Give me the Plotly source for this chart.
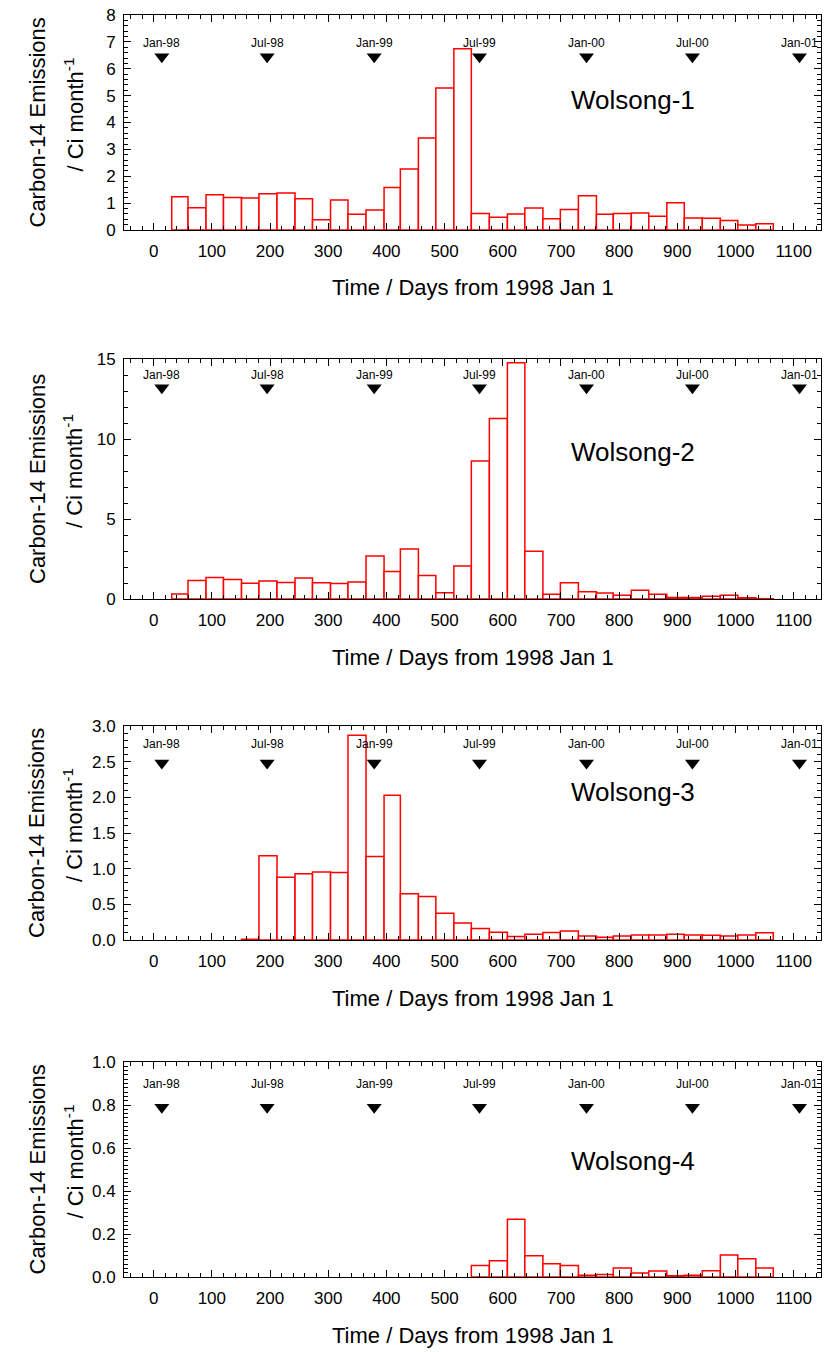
import pandas as pd
import plotly.graph_objects as go

# ---------------- data ----------------
months = ["1998-02", "1998-03", "1998-04", "1998-05", "1998-06", "1998-07", "1998-08",
          "1998-09", "1998-10", "1998-11", "1998-12", "1999-01", "1999-02", "1999-03",
          "1999-04", "1999-05", "1999-06", "1999-07", "1999-08", "1999-09", "1999-10",
          "1999-11", "1999-12", "2000-01", "2000-02", "2000-03", "2000-04", "2000-05",
          "2000-06", "2000-07", "2000-08", "2000-09", "2000-10", "2000-11"]

wolsong1 = [1.24, 0.83, 1.31, 1.21, 1.19, 1.35, 1.38, 1.16, 0.38, 1.12, 0.59, 0.74,
            1.58, 2.27, 3.42, 5.28, 6.74, 0.61, 0.47, 0.60, 0.82, 0.42, 0.76, 1.27,
            0.59, 0.61, 0.63, 0.51, 1.01, 0.45, 0.44, 0.35, 0.19, 0.23]
wolsong2 = [0.31, 1.16, 1.34, 1.22, 0.99, 1.12, 1.03, 1.32, 1.01, 0.97, 1.06, 2.69,
            1.72, 3.12, 1.47, 0.39, 2.07, 8.63, 11.28, 14.77, 2.98, 0.29, 1.01, 0.46,
            0.37, 0.23, 0.54, 0.29, 0.10, 0.10, 0.17, 0.23, 0.08, 0.02]
wolsong3 = [None, None, None, None, 0.01, 1.18, 0.88, 0.93, 0.955, 0.946, 2.87, 1.17,
            2.03, 0.65, 0.61, 0.375, 0.24, 0.16, 0.11, 0.05, 0.08, 0.105, 0.125, 0.055,
            0.04, 0.055, 0.07, 0.07, 0.08, 0.07, 0.065, 0.055, 0.07, 0.10]
wolsong4 = [None, None, None, None, None, None, None, None, None, None, None, None,
            None, None, None, None, None, 0.053, 0.076, 0.269, 0.099, 0.062, 0.053,
            0.008, 0.012, 0.042, 0.019, 0.028, 0.006, 0.008, 0.029, 0.102, 0.085, 0.042]

unit_names = ["Wolsong-1", "Wolsong-2", "Wolsong-3", "Wolsong-4"]
series = [wolsong1, wolsong2, wolsong3, wolsong4]

marker_labels = ["Jan-98", "Jul-98", "Jan-99", "Jul-99", "Jan-00", "Jul-00", "Jan-01"]
marker_dates = ["1998-01-15", "1998-07-15", "1999-01-15", "1999-07-15",
                "2000-01-15", "2000-07-15", "2001-01-15"]

y_ranges = [[0, 8], [0, 15], [0, 3], [0, 1]]
y_dticks = [1, 5, 0.5, 0.2]
y_minor = [0.2, 1, 0.1, 0.02]
y_formats = ["d", "d", ".1f", ".1f"]
marker_y = [6.45, 13.2, 2.48, 0.79]
label_y = [6.95, 14.0, 2.75, 0.90]
name_y = [4.84, 9.16, 2.07, 0.54]

# ---------------- layout geometry (pixels) ----------------
W, H = 826, 1352
x_left, x_right = 124, 821
panels_px = [(15, 230), (359, 599), (726, 940), (1062, 1277)]


def py(px):
    """pixel from top -> paper fraction"""
    return 1 - px / H


t0 = pd.Timestamp("1998-01-01")
starts = [pd.Timestamp(m + "-01") for m in months]
ends = [s + pd.offsets.MonthBegin(1) for s in starts]
centers = [((s - t0).days + (e - t0).days) / 2 for s, e in zip(starts, ends)]
widths = [(e - s).days for s, e in zip(starts, ends)]
marker_x = [(pd.Timestamp(d) - t0).days for d in marker_dates]

FONT = "Liberation Sans, Arial, Helvetica, sans-serif"

fig = go.Figure()
layout = dict(
    width=W, height=H,
    margin=dict(l=0, r=0, t=0, b=0, pad=0, autoexpand=False),
    paper_bgcolor="white", plot_bgcolor="white",
    showlegend=False,
    font=dict(family=FONT, color="black", size=17),
    annotations=[],
)

for i, vals in enumerate(series):
    k = "" if i == 0 else str(i + 1)
    xa, ya = "x" + k, "y" + k
    fig.add_trace(go.Bar(
        x=centers, y=vals, width=widths, xaxis=xa, yaxis=ya,
        marker=dict(color="white", line=dict(color="#ff0000", width=1.5)),
        hoverinfo="x+y",
    ))
    fig.add_trace(go.Scatter(
        x=marker_x, y=[marker_y[i]] * len(marker_x), xaxis=xa, yaxis=ya,
        mode="markers",
        marker=dict(symbol="triangle-down", size=13, color="black"),
    ))
    for mx, ml in zip(marker_x, marker_labels):
        layout["annotations"].append(dict(
            xref=xa, yref=ya, x=mx, y=label_y[i], text=ml, showarrow=False,
            font=dict(size=12, family=FONT, color="black"),
            xanchor="center", yanchor="middle",
        ))

    top, bot = panels_px[i]
    layout["xaxis" + k] = dict(
        domain=[x_left / W, x_right / W], anchor=ya, automargin=False,
        range=[-51, 1147], tick0=0, dtick=100,
        ticks="inside", ticklen=7, tickwidth=1, tickcolor="black",
        minor=dict(dtick=20, tick0=0, ticks="inside", ticklen=4, tickcolor="black"),
        showline=True, linecolor="black", linewidth=1, mirror="ticks",
        showgrid=False, zeroline=False,
        tickfont=dict(size=17), ticklabelstandoff=6,
    )
    layout["yaxis" + k] = dict(
        domain=[py(bot), py(top)], anchor=xa, automargin=False,
        range=y_ranges[i], dtick=y_dticks[i], tick0=0, tickformat=y_formats[i],
        ticks="inside", ticklen=7, tickwidth=1, tickcolor="black",
        minor=dict(dtick=y_minor[i], tick0=0, ticks="inside", ticklen=4, tickcolor="black"),
        showline=True, linecolor="black", linewidth=1, mirror="ticks",
        showgrid=False, zeroline=False,
        tickfont=dict(size=17), ticklabelstandoff=4,
    )
    # unit name
    layout["annotations"].append(dict(
        xref=xa, yref=ya, x=824, y=name_y[i], text=unit_names[i], showarrow=False,
        font=dict(size=26, family=FONT), xanchor="center", yanchor="middle",
    ))
    # x-axis title
    layout["annotations"].append(dict(
        xref="paper", yref="paper", x=(x_left + x_right) / 2 / W, y=py(bot + 58),
        text="Time / Days from 1998 Jan 1", showarrow=False,
        font=dict(size=22, family=FONT), xanchor="center", yanchor="middle",
    ))
    # y-axis title (two lines)
    yc = (top + bot) / 2
    layout["annotations"].append(dict(
        xref="paper", yref="paper", x=37 / W, y=py(yc),
        text="Carbon-14 Emissions", showarrow=False, textangle=-90,
        font=dict(size=22, family=FONT), xanchor="center", yanchor="middle",
    ))
    layout["annotations"].append(dict(
        xref="paper", yref="paper", x=73 / W, y=py(yc - 8),
        text="/ Ci month<sup>-1</sup>", showarrow=False, textangle=-90,
        font=dict(size=22, family=FONT), xanchor="center", yanchor="middle",
    ))

fig.update_layout(**layout)
fig.write_html(
    "out.html",
    config={"displayModeBar": False},
    post_script="document.documentElement.style.margin='0';"
                "document.body.style.margin='0';"
                "document.documentElement.style.overflow='hidden';"
                "document.body.style.overflow='hidden';",
)
